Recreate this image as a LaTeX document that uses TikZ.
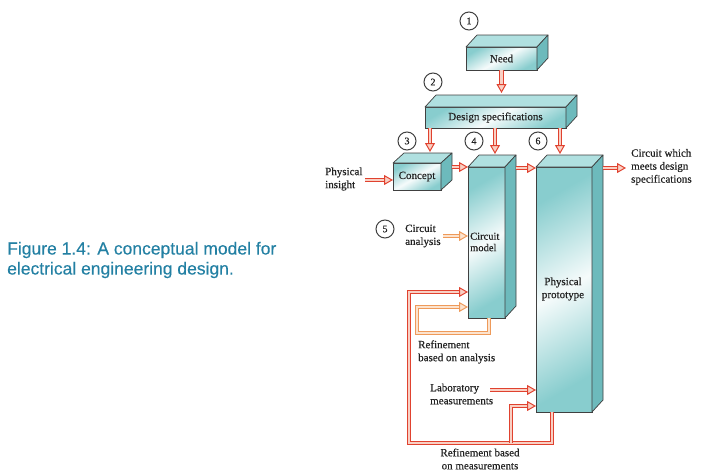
\documentclass[tikz,border=0pt]{standalone}
\usepackage{fontspec}
\setmainfont{Liberation Serif}
\newfontfamily\dfont{Liberation Serif}[FakeBold=0.5]
\newfontfamily\capfont{Liberation Sans}[FakeBold=0.3]
\usetikzlibrary{arrows.meta,calc}
\definecolor{redA}{HTML}{E0422F}
\definecolor{pinkA}{HTML}{F9D0C4}
\definecolor{oraA}{HTML}{EE9A5A}
\definecolor{oraB}{HTML}{FCE3CE}
\definecolor{tealF}{HTML}{88CDCE}
\definecolor{tealS}{HTML}{6DBABC}
\definecolor{tealT}{HTML}{B0E0E0}
\definecolor{edgec}{HTML}{404040}
\definecolor{capc}{HTML}{2380A3}
\definecolor{txt}{HTML}{222222}
\tikzset{
  face/.style={draw=edgec, line width=0.7pt, inner sep=0pt, outer sep=0pt, anchor=north west,
    left color=tealF, right color=tealF, middle color=white!92!tealF, shading angle=30, text=txt},
  topf/.style={fill=tealT, draw=edgec, line width=0.7pt, line join=round},
  sidef/.style={fill=tealS, draw=edgec, line width=0.7pt, line join=round},
  num/.style={circle, draw=edgec, line width=1pt, minimum size=18pt, inner sep=0pt, text=txt,
    font=\dfont\fontsize{10}{10}\selectfont},
  lbl/.style={align=left, text=txt, inner sep=0pt},
  rarr/.style={draw=redA, line width=1pt, double=pinkA, double distance=2.2pt,
    -{Triangle[length=9pt,width=10pt,fill=pinkA]}},
  oarr/.style={draw=oraA, line width=1pt, double=oraB, double distance=2.2pt,
    -{Triangle[length=9pt,width=10pt,fill=oraB]}},
}
\newcommand\boxfaces[3]{%
  \path[topf] (#1.north west) -- ++(#2,#3) -- ($(#1.north east)+(#2,#3)$) -- (#1.north east) -- cycle;
  \path[sidef] (#1.north east) -- ($(#1.north east)+(#2,#3)$) -- ($(#1.south east)+(#2,#3)$) -- (#1.south east) -- cycle;
}
\begin{document}
\begin{tikzpicture}[x=1pt,y=-1pt, font=\dfont\fontsize{11}{13}\selectfont]
\useasboundingbox (0,0) rectangle (702,474);

% boxes
\node[face, minimum width=71pt, minimum height=23pt] (need) at (466,47) {Need};
\boxfaces{need}{11}{-12}
\node[face, minimum width=141pt, minimum height=21pt] (design) at (425,107) {Design specifications};
\boxfaces{design}{11}{-12}
\node[face, minimum width=48pt, minimum height=27pt] (concept) at (393,163) {Concept};
\boxfaces{concept}{11}{-10}
\node[face, minimum width=37pt, minimum height=151pt] (cm) at (468,167) {};
\boxfaces{cm}{11}{-12}
\node[face, minimum width=56pt, minimum height=245pt] (phys) at (536,167) {};
\boxfaces{phys}{11}{-12}

% numbers
\node[num] (n1) at (469,21) {1};
\node[num] (n2) at (433,82) {2};
\node[num] (n3) at (407,141) {3};
\node[num] (n4) at (474,141) {4};
\node[num] (n6) at (538,141) {6};
\node[num] (n5) at (385,229) {5};

% labels
\node[lbl, anchor=west] (pi) at (325,179) {Physical\\insight};
\node[lbl, anchor=west] (ca) at (405,236) {Circuit\\analysis};
\node[lbl, anchor=west, font=\dfont\fontsize{10.5}{11.5}\selectfont] (cml) at (470,242) {Circuit\\model};
\node[lbl, align=center] (ppl) at (563,289) {Physical\\prototype};
\node[lbl, anchor=west] (out) at (631,167) {Circuit which\\meets design\\specifications};
\node[lbl, anchor=west] (ra) at (418,352) {Refinement\\based on analysis};
\node[lbl, anchor=west] (lab) at (430,394) {Laboratory\\measurements};
\node[lbl, align=center] (rm) at (480,459) {Refinement based\\on measurements};
\node[anchor=west, align=left, font=\capfont\fontsize{17.5}{20}\selectfont, text=capc, inner sep=0pt] (cap)
  at (7,260) {Figure 1.4: A conceptual model for\\electrical engineering design.};

% coordinates for free ends
\coordinate (j) at (511,443);
\coordinate (labs) at (490,390);
\coordinate (pis) at (365,180);
\coordinate (cas) at (443,236);
\coordinate (oute) at (626,168);

% arrows
\draw[rarr] (need.south) -- (need.south |- 0,93);
\draw[rarr] (design.south -| 430,0) -- (430,152);
\draw[rarr] (design.south -| 495,0) -- (495,154);
\draw[rarr] (design.south -| 560,0) -- (560,154);
\draw[rarr] (pis) -- (concept.west |- pis);
\draw[rarr] ($(concept.north east)+(11,4)$) -- (cm.west |- 0,167);
\draw[rarr] ($(cm.north east)+(11,1)$) -- (phys.west |- 0,168);
\draw[rarr] ($(phys.north east)+(11,1)$) -- (oute);
\draw[oarr] (cas) -- (cm.west |- cas);

% feedback loops
\draw[oarr] ($(cm.south west)+(21,0)$) |- (417,333) |- (cm.west |- 0,307);
\draw[rarr] ($(phys.south west)+(16,0)$) |- (409,443) |- (cm.west |- 0,292);
\draw[rarr] (j) |- (phys.west |- 0,406);
\draw[rarr] (labs) -- (phys.west |- labs);
\end{tikzpicture}
\end{document}
